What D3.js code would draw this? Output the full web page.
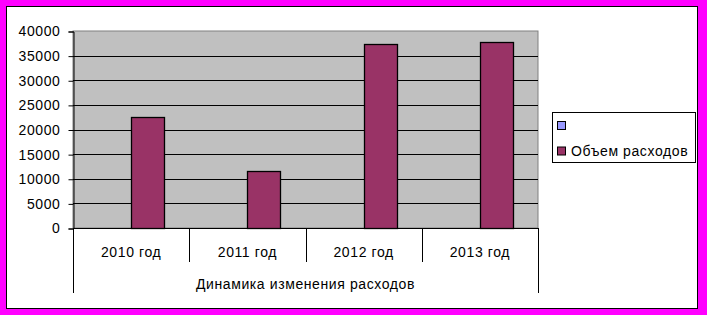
<!DOCTYPE html>
<meta charset="utf-8">
<script src="https://cdn.jsdelivr.net/npm/d3@7/dist/d3.min.js"></script>
<style>
    body { margin: 0; background: #ff00ff; }
    text { font-family: "Liberation Sans", Arial, sans-serif; font-size: 14px; fill: #000; }
</style>
<body>
<script>

    var categories = ["2010 год", "2011 год", "2012 год", "2013 год"];
    var seriesNames = ["", "Объем расходов"];
    var seriesColors = ["#9999ff", "#993366"];
    var emptyValues = [null, null, null, null];
    var costValues = [22600, 11500, 37300, 37700];
    var yTicks = [0, 5000, 10000, 15000, 20000, 25000, 30000, 35000, 40000];
    var groupTitle = "Динамика изменения расходов";

    var width = 707, height = 315;

    var svg = d3.select("body").append("svg")
        .attr("width", width)
        .attr("height", height)
        .style("display", "block");

    // magenta frame with black inner line
    svg.append("rect")
        .attr("x", 0).attr("y", 0)
        .attr("width", width).attr("height", height)
        .style("fill", "#ff00ff");
    svg.append("rect")
        .attr("x", 6.5).attr("y", 6.5)
        .attr("width", 691).attr("height", 302)
        .style("fill", "#fff")
        .style("stroke", "#000");

    var plot = { left: 73, top: 31, right: 538, bottom: 228 };

    var x = d3.scaleBand()
        .domain(categories)
        .range([plot.left, plot.right]);

    var y = d3.scaleLinear()
        .domain([0, 40000])
        .range([plot.bottom, plot.top]);

    // plot area
    svg.append("rect")
        .attr("x", plot.left).attr("y", plot.top)
        .attr("width", plot.right - plot.left)
        .attr("height", plot.bottom - plot.top)
        .style("fill", "#c0c0c0")
        .style("stroke", "#808080");

    // gridlines
    svg.selectAll(".grid")
        .data(yTicks.slice(1, -1))
        .enter().append("line")
        .attr("class", "grid")
        .attr("x1", plot.left).attr("x2", plot.right)
        .attr("y1", function(d) { return Math.round(y(d)) + 0.5; })
        .attr("y2", function(d) { return Math.round(y(d)) + 0.5; })
        .style("stroke", "#000");

    // y axis
    var yAxis = d3.axisLeft(y)
        .tickValues(yTicks)
        .tickSize(5)
        .tickPadding(8)
        .tickFormat(d3.format("d"));

    var yG = svg.append("g")
        .attr("transform", "translate(" + (plot.left + 0.5) + ",0.5)")
        .call(yAxis);
    yG.select(".domain").style("stroke", "#000");
    yG.selectAll("text")
        .style("font-family", "Liberation Sans, Arial, sans-serif")
        .style("font-size", "14px")
        .style("letter-spacing", "0.6px");
    yG.selectAll("line").style("stroke", "#000");

    // bars: gap width 150%, so each bar is band / 3.5 wide
    var seriesData = [emptyValues, costValues];
    var barW = x.bandwidth() / 3.5;
    seriesData.forEach(function(vals, s) {
        svg.selectAll(".bar" + s)
            .data(vals.map(function(v, i) { return { v: v, c: categories[i] }; })
                .filter(function(d) { return d.v != null; }))
            .enter().append("rect")
            .attr("class", "bar" + s)
            .attr("x", function(d) { return Math.round(x(d.c) + barW * (0.75 + s)) + 0.5; })
            .attr("y", function(d) { return Math.round(y(d.v)) + 0.5; })
            .attr("width", Math.round(barW))
            .attr("height", function(d) { return Math.round(y(0)) - Math.round(y(d.v)); })
            .style("fill", seriesColors[s])
            .style("stroke", "#000")
            .style("stroke-width", 1.3);
    });

    // x axis baseline
    svg.append("line")
        .attr("x1", plot.left).attr("x2", plot.right)
        .attr("y1", plot.bottom + 0.5).attr("y2", plot.bottom + 0.5)
        .style("stroke", "#000");

    // category separators
    var seps = categories.map(function(c) { return x(c); }).concat([plot.right]);
    svg.selectAll(".sep")
        .data(seps)
        .enter().append("line")
        .attr("class", "sep")
        .attr("x1", function(d) { return Math.round(d) + 0.5; })
        .attr("x2", function(d) { return Math.round(d) + 0.5; })
        .attr("y1", plot.bottom)
        .attr("y2", function(d, i) { return (i === 0 || i === seps.length - 1) ? 293 : 262; })
        .style("stroke", "#000");

    svg.selectAll(".catLabel")
        .data(categories)
        .enter().append("text")
        .attr("class", "catLabel")
        .attr("x", function(d) { return x(d) + x.bandwidth() / 2; })
        .attr("y", 257)
        .attr("text-anchor", "middle")
        .style("letter-spacing", "0.6px")
        .text(function(d) { return d; });

    svg.append("text")
        .attr("x", (plot.left + plot.right) / 2)
        .attr("y", 289)
        .attr("text-anchor", "middle")
        .style("letter-spacing", "0.6px")
        .text(groupTitle);

    // legend
    var legend = svg.append("g").attr("transform", "translate(552,112)");
    legend.append("rect")
        .attr("x", 0.5).attr("y", 0.5)
        .attr("width", 143).attr("height", 50)
        .style("fill", "#fff")
        .style("stroke", "#000");

    var items = legend.selectAll(".item")
        .data(seriesNames)
        .enter().append("g")
        .attr("class", "item")
        .attr("transform", function(d, i) { return "translate(0," + (i * 25.5) + ")"; });
    items.append("rect")
        .attr("x", 5.5).attr("y", 9.5)
        .attr("width", 8).attr("height", 8)
        .style("fill", function(d, i) { return seriesColors[i]; })
        .style("stroke", "#000");
    items.append("text")
        .attr("x", 19)
        .attr("y", 18.5)
        .style("letter-spacing", "0.6px")
        .text(function(d) { return d; });

</script>
</body>
